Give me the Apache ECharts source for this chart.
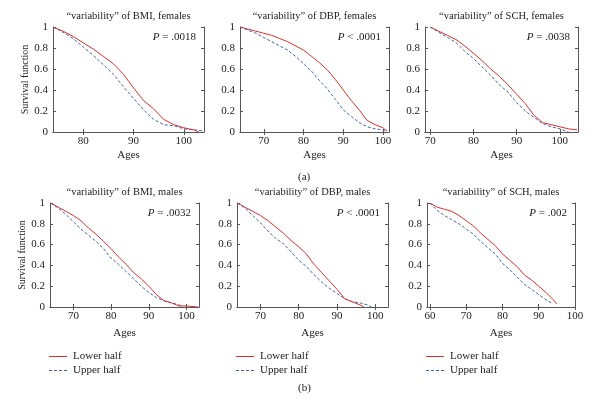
<!DOCTYPE html>
<html><head><meta charset="utf-8">
<script src="https://cdn.jsdelivr.net/npm/echarts@6/dist/echarts.min.js"></script>
<style>html,body{margin:0;padding:0;background:#fff}#c{width:611px;height:402px}</style>
</head><body><div id="c"></div><script>
// ---- data ----
const panelTitles = ['\u201cvariability\u201d of BMI, females', '\u201cvariability\u201d of DBP, females', '\u201cvariability\u201d of SCH, females',
  '\u201cvariability\u201d of BMI, males', '\u201cvariability\u201d of DBP, males', '\u201cvariability\u201d of SCH, males'];
const pTexts = ['= .0018', '< .0001', '= .0038', '= .0032', '< .0001', '= .002'];
const seriesNames = ['Lower half', 'Upper half'];
const xTickValues = [[80, 90, 100], [70, 80, 90, 100], [70, 80, 90, 100], [70, 80, 90, 100], [70, 80, 90, 100], [60, 70, 80, 90, 100]];
const xMins = [74, 64, 68.8, 63.8, 63.9, 59.2];
const xMaxs = [104, 101.5, 104.2, 103.3, 103.3, 100];
const yTickValues = [0, 0.2, 0.4, 0.6, 0.8, 1];

const bmiFemalesLower = [[74,1],[76,0.96],[78,0.91],[80,0.85],[82,0.79],[84,0.72],[86,0.65],[88,0.55],[90,0.42],[92,0.30],[94,0.22],[96,0.12],[98,0.07],[100,0.04],[102,0.02],[103,0.0]];
const bmiFemalesUpper = [[74,1],[76,0.95],[78,0.89],[80,0.81],[82,0.73],[84,0.64],[86,0.55],[88,0.43],[90,0.32],[92,0.21],[94,0.12],[96,0.07],[98,0.06],[100,0.03],[102,0.02],[104,0.01]];
const dbpFemalesLower = [[64,1],[66,0.98],[68,0.96],[70,0.94],[72,0.92],[74,0.89],[76,0.86],[78,0.82],[80,0.78],[82,0.72],[84,0.66],[86,0.59],[88,0.50],[90,0.40],[92,0.30],[94,0.21],[96,0.11],[98,0.07],[100,0.04],[101,0.01]];
const dbpFemalesUpper = [[64,1],[66,0.97],[68,0.94],[70,0.90],[72,0.86],[74,0.82],[76,0.78],[78,0.72],[80,0.65],[82,0.58],[84,0.49],[86,0.41],[88,0.31],[90,0.21],[92,0.15],[94,0.09],[96,0.05],[98,0.03],[100,0.02],[101,0.0]];
const schFemalesLower = [[70,1],[72,0.96],[74,0.92],[76,0.88],[78,0.82],[80,0.75],[82,0.68],[84,0.60],[86,0.53],[88,0.45],[90,0.36],[92,0.27],[94,0.16],[96,0.09],[98,0.07],[100,0.05],[102,0.03],[104,0.02]];
const schFemalesUpper = [[70,1],[72,0.95],[74,0.90],[76,0.85],[78,0.77],[80,0.70],[82,0.62],[84,0.54],[86,0.45],[88,0.38],[90,0.28],[92,0.20],[94,0.14],[96,0.08],[98,0.05],[100,0.03],[102,0.0]];
const bmiMalesLower = [[64,1],[66,0.96],[68,0.92],[70,0.88],[72,0.83],[74,0.76],[76,0.70],[78,0.63],[80,0.56],[82,0.48],[84,0.41],[86,0.33],[88,0.27],[90,0.20],[92,0.12],[94,0.06],[96,0.04],[98,0.01],[100,0.01],[103,0.0]];
const bmiMalesUpper = [[64,1],[66,0.95],[68,0.89],[70,0.82],[72,0.75],[74,0.69],[76,0.63],[78,0.56],[80,0.47],[82,0.41],[84,0.34],[86,0.27],[88,0.20],[90,0.14],[92,0.09],[94,0.06],[96,0.04],[98,0.02],[99,0.0]];
const dbpMalesLower = [[64,1],[66,0.96],[68,0.92],[70,0.88],[72,0.83],[74,0.77],[76,0.71],[78,0.64],[80,0.58],[82,0.51],[84,0.41],[86,0.33],[88,0.25],[90,0.17],[92,0.08],[94,0.05],[96,0.02],[97,0.0]];
const dbpMalesUpper = [[64,1],[66,0.95],[68,0.88],[70,0.81],[72,0.73],[74,0.66],[76,0.61],[78,0.53],[80,0.45],[82,0.39],[84,0.31],[86,0.24],[88,0.18],[90,0.13],[92,0.08],[94,0.05],[96,0.04],[98,0.02],[99,0.0]];
const schMalesLower = [[60,1],[62,0.96],[64,0.94],[66,0.92],[68,0.88],[70,0.83],[72,0.78],[74,0.71],[76,0.65],[78,0.59],[80,0.51],[82,0.45],[84,0.39],[86,0.31],[88,0.26],[90,0.20],[92,0.14],[94,0.07],[95,0.03]];
const schMalesUpper = [[60,1],[62,0.93],[64,0.88],[66,0.84],[68,0.80],[70,0.75],[72,0.70],[74,0.63],[76,0.57],[78,0.51],[80,0.42],[82,0.36],[84,0.29],[86,0.22],[88,0.17],[90,0.12],[92,0.07],[94,0.03]];

const panelData = [
  [bmiFemalesLower, bmiFemalesUpper], [dbpFemalesLower, dbpFemalesUpper], [schFemalesLower, schFemalesUpper],
  [bmiMalesLower, bmiMalesUpper], [dbpMalesLower, dbpMalesUpper], [schMalesLower, schMalesUpper]
];

// ---- layout / style ----
const layout = [
  {left: 53, top: 27, width: 151, height: 105},
  {left: 240, top: 27, width: 149, height: 105},
  {left: 425, top: 27, width: 153, height: 105},
  {left: 50, top: 203, width: 149, height: 104},
  {left: 237, top: 203, width: 151, height: 104},
  {left: 427, top: 203, width: 148, height: 104}
];
const FONT = 'Liberation Serif';
const AXC = '#555';
const TXC = '#222';
const RED = '#d9302c';
const BLUE = '#3f63b3';
const DASH = [3, 2];
const seriesColors = [RED, BLUE];
const seriesDash = [null, DASH];

const grids = [], xAxes = [], yAxes = [], series = [], graphics = [], titles = [];
layout.forEach((g, i) => {
  grids.push(Object.assign({show: false, containLabel: false, outerBoundsMode: 'none'}, g));
  const axLine = {show: true, lineStyle: {color: AXC, width: 1}};
  const tick = {show: true, inside: true, length: 3, lineStyle: {color: AXC}};
  xAxes.push({
    type: 'value', gridIndex: i, position: 'bottom', min: xMins[i], max: xMaxs[i],
    axisLine: axLine,
    axisTick: Object.assign({customValues: xTickValues[i]}, tick),
    axisLabel: {customValues: xTickValues[i], color: TXC, fontFamily: FONT, fontSize: 11, margin: 4},
    splitLine: {show: false},
    name: 'Ages', nameLocation: 'middle', nameGap: i < 3 ? 18 : 21,
    nameTextStyle: {color: TXC, fontFamily: FONT, fontSize: 11}
  });
  xAxes.push({
    type: 'value', gridIndex: i, position: 'top', min: xMins[i], max: xMaxs[i],
    axisLine: axLine,
    axisTick: Object.assign({customValues: xTickValues[i]}, tick),
    axisLabel: {show: false}, splitLine: {show: false}
  });
  const yl = {
    type: 'value', gridIndex: i, position: 'left', min: 0, max: 1,
    axisLine: axLine,
    axisTick: Object.assign({customValues: yTickValues}, tick),
    axisLabel: {customValues: yTickValues, color: TXC, fontFamily: FONT, fontSize: 11, margin: 5,
      formatter: v => (v === 0 ? '0' : v === 1 ? '1' : v.toFixed(1))},
    splitLine: {show: false}
  };
  if (i === 0 || i === 3) {
    yl.name = 'Survival function';
    yl.nameLocation = 'middle';
    yl.nameGap = 23;
    yl.nameTextStyle = {color: TXC, fontFamily: FONT, fontSize: 10};
  }
  yAxes.push(yl);
  yAxes.push({
    type: 'value', gridIndex: i, position: 'right', min: 0, max: 1,
    axisLine: axLine,
    axisTick: Object.assign({customValues: yTickValues}, tick),
    axisLabel: {show: false}, splitLine: {show: false}
  });
  [0, 1].forEach(k => {
    series.push({
      type: 'line', name: seriesNames[k], xAxisIndex: 2 * i, yAxisIndex: 2 * i,
      data: panelData[i][k], symbol: 'none', showSymbol: false, color: seriesColors[k],
      lineStyle: {color: seriesColors[k], width: 1, type: seriesDash[k] || 'solid'},
      z: 3 - k, animation: false
    });
  });
  titles.push({
    text: panelTitles[i], left: g.left + g.width / 2, top: g.top - 16, textAlign: 'center',
    textStyle: {color: TXC, fontFamily: FONT, fontSize: 10.5, fontWeight: 'normal'}, padding: 0
  });
  graphics.push({
    type: 'text', right: 611 - (g.left + g.width - 8), top: g.top + 5,
    style: {text: '{i|P} ' + pTexts[i], fill: TXC, font: '11px "Liberation Serif"',
      rich: {i: {fontStyle: 'italic', fontFamily: FONT, fontSize: 11, fill: TXC}}}
  });
  if (i >= 3) {
    // legend key under each lower panel
    [0, 1].forEach(k => {
      const y = 356.5 + k * 14;
      graphics.push({
        type: 'line', silent: true,
        shape: {x1: g.left - 1, y1: y, x2: g.left + 17, y2: y},
        style: {stroke: seriesColors[k], lineWidth: 1, lineDash: seriesDash[k]}
      });
      graphics.push({
        type: 'text', silent: true, x: g.left + 23, y: y,
        style: {text: seriesNames[k], fill: TXC, font: '11px "Liberation Serif"', textVerticalAlign: 'middle', verticalAlign: 'middle'}
      });
    });
  }
});
graphics.push({type: 'text', left: 298, top: 172, style: {text: '(a)', fill: TXC, font: '11px "Liberation Serif"'}});
graphics.push({type: 'text', left: 298, top: 383, style: {text: '(b)', fill: TXC, font: '11px "Liberation Serif"'}});

const chart = echarts.init(document.getElementById('c'), null, {renderer: 'canvas'});
chart.setOption({
  animation: false,
  backgroundColor: '#fff',
  title: titles,
  grid: grids,
  xAxis: xAxes,
  yAxis: yAxes,
  series: series,
  graphic: graphics
});
</script></body></html>
